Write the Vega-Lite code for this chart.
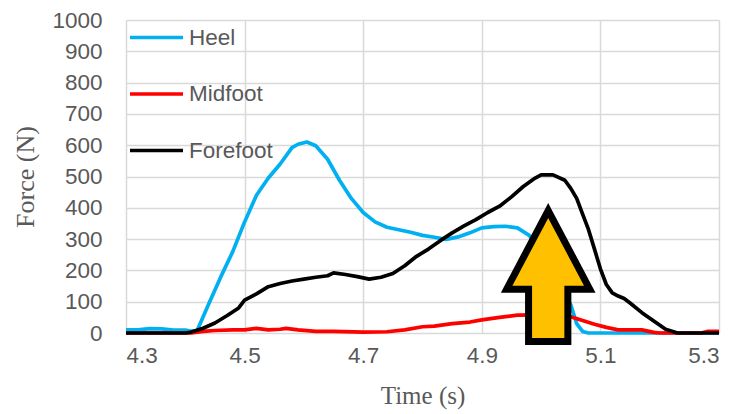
{
  "$schema": "https://vega.github.io/schema/vega-lite/v6.json",
  "width": 593,
  "height": 313,
  "autosize": {"type": "none"},
  "padding": {"left": 126, "top": 20, "right": 12, "bottom": 81},
  "background": "white",
  "config": {"view": {"stroke": null}, "font": "Liberation Sans", "axis": {"labelOverlap": false, "labelSeparation": 0}},
  "datasets": {
    "forces": [
      {"t": 4.30, "f": 10, "s": "Heel"}, {"t": 4.32, "f": 10, "s": "Heel"}, {"t": 4.34, "f": 14, "s": "Heel"}, {"t": 4.36, "f": 13, "s": "Heel"}, {"t": 4.38, "f": 9, "s": "Heel"}, {"t": 4.40, "f": 9, "s": "Heel"}, {"t": 4.41, "f": 5, "s": "Heel"}, {"t": 4.42, "f": 8, "s": "Heel"}, {"t": 4.44, "f": 95, "s": "Heel"}, {"t": 4.46, "f": 180, "s": "Heel"}, {"t": 4.48, "f": 260, "s": "Heel"}, {"t": 4.50, "f": 355, "s": "Heel"}, {"t": 4.52, "f": 440, "s": "Heel"}, {"t": 4.54, "f": 495, "s": "Heel"}, {"t": 4.56, "f": 540, "s": "Heel"}, {"t": 4.58, "f": 592, "s": "Heel"}, {"t": 4.59, "f": 603, "s": "Heel"}, {"t": 4.605, "f": 610, "s": "Heel"}, {"t": 4.62, "f": 598, "s": "Heel"}, {"t": 4.64, "f": 555, "s": "Heel"}, {"t": 4.66, "f": 488, "s": "Heel"}, {"t": 4.68, "f": 430, "s": "Heel"}, {"t": 4.70, "f": 385, "s": "Heel"}, {"t": 4.72, "f": 355, "s": "Heel"}, {"t": 4.74, "f": 338, "s": "Heel"}, {"t": 4.76, "f": 330, "s": "Heel"}, {"t": 4.78, "f": 322, "s": "Heel"}, {"t": 4.80, "f": 312, "s": "Heel"}, {"t": 4.82, "f": 306, "s": "Heel"}, {"t": 4.84, "f": 299, "s": "Heel"}, {"t": 4.86, "f": 307, "s": "Heel"}, {"t": 4.88, "f": 320, "s": "Heel"}, {"t": 4.90, "f": 336, "s": "Heel"}, {"t": 4.92, "f": 340, "s": "Heel"}, {"t": 4.94, "f": 341, "s": "Heel"}, {"t": 4.96, "f": 336, "s": "Heel"}, {"t": 4.98, "f": 312, "s": "Heel"}, {"t": 5.00, "f": 260, "s": "Heel"}, {"t": 5.02, "f": 190, "s": "Heel"}, {"t": 5.04, "f": 120, "s": "Heel"}, {"t": 5.05, "f": 90, "s": "Heel"}, {"t": 5.06, "f": 30, "s": "Heel"}, {"t": 5.07, "f": 5, "s": "Heel"}, {"t": 5.08, "f": 0, "s": "Heel"}, {"t": 5.20, "f": 0, "s": "Heel"}, {"t": 5.30, "f": 0, "s": "Heel"},
      {"t": 4.30, "f": 0, "s": "Midfoot"}, {"t": 4.41, "f": 0, "s": "Midfoot"}, {"t": 4.43, "f": 5, "s": "Midfoot"}, {"t": 4.45, "f": 8, "s": "Midfoot"}, {"t": 4.48, "f": 10, "s": "Midfoot"}, {"t": 4.50, "f": 10, "s": "Midfoot"}, {"t": 4.52, "f": 15, "s": "Midfoot"}, {"t": 4.54, "f": 10, "s": "Midfoot"}, {"t": 4.56, "f": 12, "s": "Midfoot"}, {"t": 4.57, "f": 15, "s": "Midfoot"}, {"t": 4.59, "f": 10, "s": "Midfoot"}, {"t": 4.62, "f": 5, "s": "Midfoot"}, {"t": 4.65, "f": 5, "s": "Midfoot"}, {"t": 4.70, "f": 3, "s": "Midfoot"}, {"t": 4.74, "f": 4, "s": "Midfoot"}, {"t": 4.77, "f": 10, "s": "Midfoot"}, {"t": 4.80, "f": 20, "s": "Midfoot"}, {"t": 4.82, "f": 22, "s": "Midfoot"}, {"t": 4.85, "f": 30, "s": "Midfoot"}, {"t": 4.88, "f": 35, "s": "Midfoot"}, {"t": 4.90, "f": 42, "s": "Midfoot"}, {"t": 4.93, "f": 50, "s": "Midfoot"}, {"t": 4.96, "f": 57, "s": "Midfoot"}, {"t": 5.00, "f": 58, "s": "Midfoot"}, {"t": 5.03, "f": 58, "s": "Midfoot"}, {"t": 5.05, "f": 52, "s": "Midfoot"}, {"t": 5.07, "f": 40, "s": "Midfoot"}, {"t": 5.09, "f": 28, "s": "Midfoot"}, {"t": 5.11, "f": 18, "s": "Midfoot"}, {"t": 5.13, "f": 10, "s": "Midfoot"}, {"t": 5.17, "f": 10, "s": "Midfoot"}, {"t": 5.19, "f": 2, "s": "Midfoot"}, {"t": 5.20, "f": 0, "s": "Midfoot"}, {"t": 5.27, "f": 0, "s": "Midfoot"}, {"t": 5.28, "f": 5, "s": "Midfoot"}, {"t": 5.30, "f": 5, "s": "Midfoot"},
      {"t": 4.30, "f": 0, "s": "Forefoot"}, {"t": 4.40, "f": 0, "s": "Forefoot"}, {"t": 4.41, "f": 3, "s": "Forefoot"}, {"t": 4.43, "f": 15, "s": "Forefoot"}, {"t": 4.45, "f": 32, "s": "Forefoot"}, {"t": 4.47, "f": 55, "s": "Forefoot"}, {"t": 4.49, "f": 80, "s": "Forefoot"}, {"t": 4.50, "f": 105, "s": "Forefoot"}, {"t": 4.52, "f": 125, "s": "Forefoot"}, {"t": 4.54, "f": 148, "s": "Forefoot"}, {"t": 4.56, "f": 158, "s": "Forefoot"}, {"t": 4.58, "f": 166, "s": "Forefoot"}, {"t": 4.60, "f": 172, "s": "Forefoot"}, {"t": 4.62, "f": 178, "s": "Forefoot"}, {"t": 4.64, "f": 183, "s": "Forefoot"}, {"t": 4.65, "f": 192, "s": "Forefoot"}, {"t": 4.67, "f": 187, "s": "Forefoot"}, {"t": 4.69, "f": 180, "s": "Forefoot"}, {"t": 4.71, "f": 172, "s": "Forefoot"}, {"t": 4.73, "f": 178, "s": "Forefoot"}, {"t": 4.75, "f": 190, "s": "Forefoot"}, {"t": 4.77, "f": 215, "s": "Forefoot"}, {"t": 4.79, "f": 245, "s": "Forefoot"}, {"t": 4.81, "f": 268, "s": "Forefoot"}, {"t": 4.83, "f": 295, "s": "Forefoot"}, {"t": 4.85, "f": 320, "s": "Forefoot"}, {"t": 4.87, "f": 342, "s": "Forefoot"}, {"t": 4.89, "f": 362, "s": "Forefoot"}, {"t": 4.91, "f": 385, "s": "Forefoot"}, {"t": 4.93, "f": 405, "s": "Forefoot"}, {"t": 4.95, "f": 435, "s": "Forefoot"}, {"t": 4.97, "f": 468, "s": "Forefoot"}, {"t": 4.99, "f": 495, "s": "Forefoot"}, {"t": 5.00, "f": 505, "s": "Forefoot"}, {"t": 5.02, "f": 505, "s": "Forefoot"}, {"t": 5.04, "f": 488, "s": "Forefoot"}, {"t": 5.05, "f": 462, "s": "Forefoot"}, {"t": 5.06, "f": 430, "s": "Forefoot"}, {"t": 5.07, "f": 380, "s": "Forefoot"}, {"t": 5.08, "f": 330, "s": "Forefoot"}, {"t": 5.09, "f": 268, "s": "Forefoot"}, {"t": 5.10, "f": 205, "s": "Forefoot"}, {"t": 5.11, "f": 155, "s": "Forefoot"}, {"t": 5.12, "f": 128, "s": "Forefoot"}, {"t": 5.13, "f": 118, "s": "Forefoot"}, {"t": 5.14, "f": 110, "s": "Forefoot"}, {"t": 5.15, "f": 96, "s": "Forefoot"}, {"t": 5.17, "f": 65, "s": "Forefoot"}, {"t": 5.19, "f": 38, "s": "Forefoot"}, {"t": 5.21, "f": 12, "s": "Forefoot"}, {"t": 5.23, "f": 0, "s": "Forefoot"}, {"t": 5.30, "f": 0, "s": "Forefoot"}
    ],
    "arrow": [{"t": 5.012, "f": 182}]
  },
  "layer": [
    {
      "data": {"name": "forces"},
      "mark": {"type": "line", "strokeWidth": 3.7, "strokeJoin": "round"},
      "encoding": {
        "x": {
          "field": "t", "type": "quantitative",
          "scale": {"domain": [4.3, 5.3], "nice": false, "zero": false},
          "axis": {
            "values": [4.3, 4.5, 4.7, 4.9, 5.1, 5.3], "format": ".1f", "labelOverlap": false,
            "title": "Time (s)", "titleFont": "Liberation Serif", "titleFontSize": 25, "titleFontWeight": "normal", "titleColor": "#595959", "titlePadding": 17,
            "labelFontSize": 22.5, "labelColor": "#595959", "labelPadding": 11,
            "ticks": false, "tickSize": 0, "domain": false,
            "grid": true, "gridColor": "#d9d9d9", "gridWidth": 1.5
          }
        },
        "y": {
          "field": "f", "type": "quantitative",
          "scale": {"domain": [0, 1000], "nice": false},
          "axis": {
            "values": [0, 100, 200, 300, 400, 500, 600, 700, 800, 900, 1000], "tickCount": 11, "format": "d", "labelOverlap": false, "labelSeparation": 0,
            "title": "Force (N)", "titleFont": "Liberation Serif", "titleFontSize": 26, "titleFontWeight": "normal", "titleColor": "#595959", "titlePadding": 13,
            "labelFontSize": 22.5, "labelColor": "#595959", "labelPadding": 24,
            "ticks": false, "tickSize": 0, "domain": false,
            "grid": true, "gridColor": "#d9d9d9", "gridWidth": 1.5
          }
        },
        "color": {
          "field": "s", "type": "nominal",
          "scale": {"domain": ["Heel", "Midfoot", "Forefoot"], "range": ["#00B0F0", "#FF0000", "#000000"]},
          "legend": {
            "orient": "none", "legendX": 2, "legendY": -11, "direction": "vertical",
            "title": null, "symbolType": "stroke", "symbolSize": 2809, "symbolStrokeWidth": 3.7,
            "labelFontSize": 22.5, "labelColor": "#595959", "labelOffset": 4, "rowPadding": 16.5
          }
        }
      }
    },
    {
      "data": {"name": "arrow"},
      "mark": {
        "type": "point",
        "shape": "M0,-1L0.634,0.2L0.3,0.2L0.3,1L-0.3,1L-0.3,0.2L-0.634,0.2Z",
        "size": 17161, "filled": true, "fill": "#FFC000", "stroke": "#000000", "strokeWidth": 7, "opacity": 1, "fillOpacity": 1, "strokeJoin": "miter"
      },
      "encoding": {
        "x": {"field": "t", "type": "quantitative"},
        "y": {"field": "f", "type": "quantitative"}
      }
    }
  ]
}
